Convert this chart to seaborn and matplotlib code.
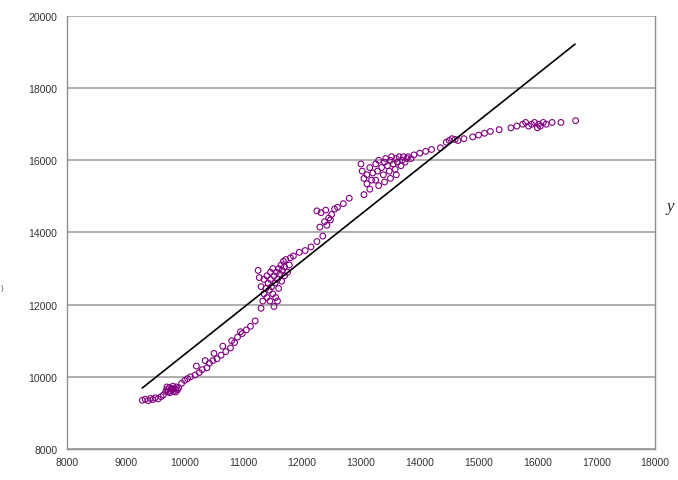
import matplotlib
matplotlib.use("Agg")
import matplotlib.pyplot as plt
import seaborn as sns
import pandas as pd

# ---- data ----
pts_x = [
    # start cluster
    9280, 9330, 9380, 9420, 9460, 9500, 9550, 9600, 9640,
    # dense cluster ~9800
    9680, 9700, 9720, 9740, 9760, 9780, 9800, 9820, 9840, 9860, 9880, 9700, 9750, 9800, 9850, 9900,
    # lower trail
    9950, 10000, 10050, 10100, 10180, 10250, 10300, 10380, 10420, 10480, 10550, 10620, 10700,
    10780, 10850, 10900, 10980, 11050, 11120, 11200,
    # upper row of lower trail
    10200, 10350, 10500, 10650, 10800, 10950,
    # dense cluster ~11500
    11300, 11330, 11350, 11380, 11400, 11420, 11440, 11460, 11480, 11500, 11520, 11540, 11560,
    11580, 11600, 11620, 11640, 11660, 11680, 11700, 11720, 11460, 11500, 11400, 11550, 11600,
    11650, 11700, 11750, 11350, 11300, 11450, 11520, 11580, 11780, 11800, 11250, 11270,
    # between clusters
    11850, 11950, 12050, 12150, 12250, 12350,
    # cluster ~12400
    12250, 12320, 12400, 12450, 12380, 12300, 12420, 12500, 12550, 12600, 12700, 12480,
    12800, 13050, 13150, 13300,
    # dense cluster ~13500
    13000, 13020, 13050, 13100, 13150, 13180, 13200, 13250, 13280, 13300, 13350, 13380, 13400,
    13420, 13450, 13480, 13500, 13520, 13550, 13580, 13600, 13620, 13650, 13680, 13700, 13720,
    13750, 13780, 13800, 13850, 13900, 13500, 13600, 13400, 13250, 13100,
    # upper trail
    14000, 14100, 14200, 14350, 14450, 14500, 14550, 14600, 14650, 14750, 14900, 15000, 15100,
    15200, 15350,
    # plateau
    15550, 15650, 15750, 15800, 15850, 15900, 15950, 16000, 16020, 16050, 16100, 16150, 16250,
    16400, 16650,
]
pts_y = [
    9350, 9380, 9340, 9400, 9370, 9420, 9390, 9450, 9500,
    9600, 9650, 9580, 9700, 9620, 9680, 9740, 9600, 9660, 9720, 9640, 9720, 9560, 9660, 9580, 9700,
    9820, 9900, 9950, 10000, 10050, 10120, 10200, 10250, 10380, 10450, 10500, 10600, 10700,
    10800, 10950, 11100, 11200, 11300, 11400, 11550,
    10300, 10450, 10650, 10850, 11000, 11250,
    11900, 12100, 12300, 12450, 12200, 12600, 12400, 12700, 12500, 12300, 12800, 12600, 12900,
    12700, 13000, 12850, 13100, 12950, 13200, 13050, 13250, 12900, 13000, 12800, 12200, 12450,
    12650, 12800, 12900, 12700, 12500, 12100, 11950, 12100, 13100, 13300, 12950, 12750,
    13350, 13450, 13500, 13600, 13750, 13900,
    14600, 14550, 14620, 14400, 14300, 14150, 14200, 14500, 14650, 14700, 14800, 14350,
    14950, 15050, 15200, 15300,
    15900, 15700, 15500, 15600, 15800, 15450, 15650, 15900, 15700, 16000, 15800, 15600, 15950,
    16050, 15850, 15700, 16000, 16100, 15900, 15750, 16050, 15950, 16100, 15850, 16000, 16100,
    15950, 16050, 16100, 16050, 16150, 15500, 15600, 15400, 15450, 15350,
    16200, 16250, 16300, 16350, 16500, 16550, 16600, 16580, 16550, 16600, 16650, 16700, 16750,
    16800, 16850,
    16900, 16950, 17000, 17050, 16950, 17000, 17050, 16900, 17000, 16950, 17050, 17000, 17050,
    17050, 17100,
]
line_x = [9280, 16640]
line_y = [9690, 19220]

x_ticks = [8000, 9000, 10000, 11000, 12000, 13000, 14000, 15000, 16000, 17000, 18000]
y_ticks = [8000, 10000, 12000, 14000, 16000, 18000, 20000]

# ---- drawing ----
sns.set_style("white")
plt.rcParams['font.family'] = ['Liberation Sans', 'DejaVu Sans']

fig = plt.figure(figsize=(6.78, 4.81), dpi=100)
ax = fig.add_axes([67 / 678, 1 - 450 / 481, (655 - 67) / 678, (450 - 17) / 481])

df = pd.DataFrame({"x": pts_x, "y": pts_y})
sns.scatterplot(data=df, x="x", y="y", ax=ax, marker="o", s=17,
                facecolor="none", edgecolor="#800080", linewidth=0.8, zorder=3)
sns.lineplot(x=line_x, y=line_y, ax=ax, color="black", linewidth=1.2, zorder=4)

ax.set_xlim(8000, 18000)
ax.set_ylim(8000, 20000)
ax.set_xticks(x_ticks)
ax.set_yticks(y_ticks)
ax.set_xticklabels([str(t) for t in x_ticks])
ax.set_yticklabels([str(t) for t in y_ticks])
ax.set_xlabel("")
ax.set_ylabel("")

ax.yaxis.grid(True, color="#a8a8a8", linewidth=1.3)
ax.xaxis.grid(False)
ax.set_axisbelow(True)

for side in ["left", "bottom", "right"]:
    ax.spines[side].set_visible(True)
    ax.spines[side].set_color("#909090")
    ax.spines[side].set_linewidth(1.0)
ax.spines["top"].set_visible(False)

ax.tick_params(axis="x", direction="inout", length=5, width=0.8, color="#909090",
               labelsize=7.5, labelcolor="#333333", pad=3)
ax.tick_params(axis="y", direction="out", length=4, width=0.8, color="#909090",
               labelsize=7.5, labelcolor="#333333", pad=3)

fig.text(666 / 678, 1 - 207 / 481, "y", fontsize=12, style="italic",
         family=["Liberation Serif", "DejaVu Serif"], ha="left", va="center")
fig.text(0.5 / 678, 1 - 288 / 481, ")", fontsize=6, color="#555555", ha="left", va="center")

fig.savefig("out.png", dpi=100)
